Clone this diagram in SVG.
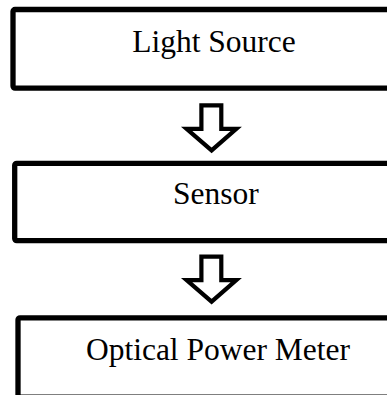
<svg xmlns="http://www.w3.org/2000/svg" width="387" height="395" viewBox="0 0 387 395">
<style>
.box{fill:#fff;stroke:#000;stroke-width:5.3}
.lbl{font-family:"Liberation Serif","Times New Roman",serif;font-size:31.5px;fill:#000;text-anchor:middle}
.arr{fill:#fff;stroke:#000;stroke-width:4.2;stroke-linejoin:miter;stroke-miterlimit:10}
</style>
<rect width="387" height="395" fill="#fff"/>
<g id="connectors">
<polygon class="arr" points="201.4,105.4 221.3,105.4 221.3,128.8 236.3,128.8 211.6,150.4 186.6,128.8 201.4,128.8"/>
<polygon class="arr" transform="translate(0,151.3)" points="201.4,105.4 221.3,105.4 221.3,128.8 236.3,128.8 211.6,150.4 186.6,128.8 201.4,128.8"/>
</g>
<g id="node-light-source">
<rect class="box" x="13" y="9.5" width="390" height="78.6" rx="2"/>
<text class="lbl" x="214" y="52">Light Source</text>
</g>
<g id="node-sensor">
<rect class="box" x="14.7" y="163.3" width="390" height="77.3" rx="2"/>
<text class="lbl" x="215.8" y="204">Sensor</text>
</g>
<g id="node-optical-power-meter">
<rect class="box" x="18" y="317.8" width="390" height="79.3" rx="2"/>
<text class="lbl" x="218" y="360">Optical Power Meter</text>
</g>
</svg>
